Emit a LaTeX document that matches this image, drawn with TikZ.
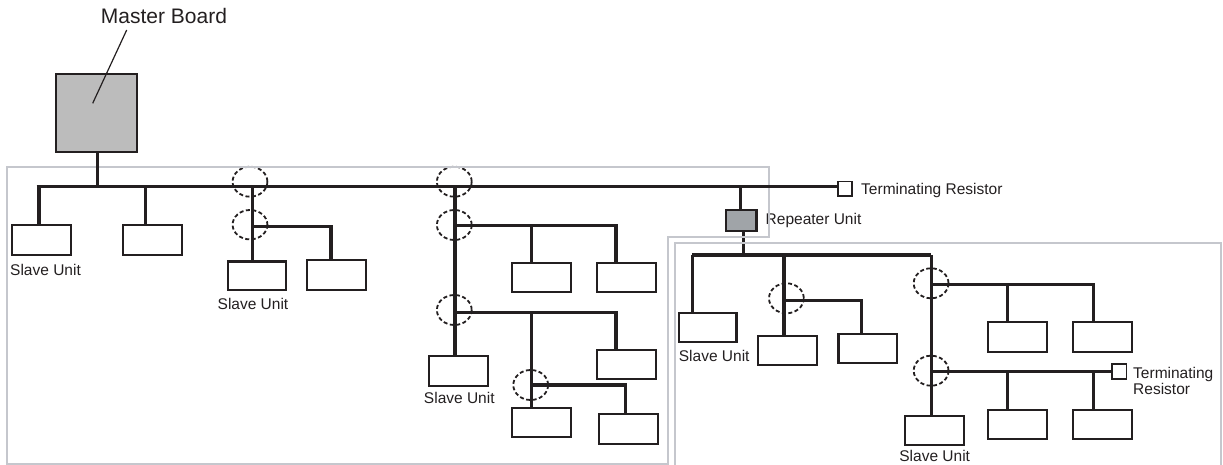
\documentclass[tikz,border=0pt]{standalone}
\usepackage{fontspec}
\setmainfont{Liberation Sans}
\definecolor{framegray}{HTML}{C5C7CD}
\definecolor{mastergray}{HTML}{BCBCBC}
\definecolor{repgray}{HTML}{A0A4A8}
\definecolor{ink}{HTML}{231F20}
\tikzset{
  bus/.style={draw=ink, line width=3.2pt},
  slavebox/.style={draw=ink, line width=2.2pt, fill=white, rectangle, inner sep=0pt, outer sep=0pt},
  ring/.style={draw=ink, line width=1.8pt, dash pattern=on 4pt off 2.5pt},
  frameline/.style={draw=framegray, line width=2pt},
  lbl/.style={font=\fontsize{15.5}{16.6}\selectfont, text=ink, inner sep=0pt},
  termbox/.style={draw=ink, line width=1.8pt, fill=white, rectangle, inner sep=0pt, outer sep=0pt, minimum size=14.5pt},
}
\begin{document}
\begin{tikzpicture}[x=1pt,y=-1pt]
\useasboundingbox (0,0) rectangle (1223,465);

% ---- nodes ----
\node[draw=ink, line width=2.2pt, fill=mastergray, minimum width=81pt, minimum height=78pt, inner sep=0pt, outer sep=0pt] (m) at (96.5,113) {};
\node[lbl, font=\fontsize{21}{24}\selectfont] (mlbl) at (164,16) {Master Board};
\coordinate (mtop) at (126.7,30);
\coordinate (mlead) at (92.7,103.3);

% left segment slaves
\node[slavebox, minimum width=59pt, minimum height=30pt] (s1) at (41.5,240) {};
\node[slavebox, minimum width=59pt, minimum height=30pt] (s2) at (152.2,240) {};
\node[slavebox, minimum width=58pt, minimum height=28.5pt] (s3) at (256.8,275.8) {};
\node[slavebox, minimum width=59pt, minimum height=30pt] (s4) at (336.7,275) {};
\node[slavebox, minimum width=59pt, minimum height=29.5pt] (s5a) at (541.2,277.5) {};
\node[slavebox, minimum width=59pt, minimum height=29.5pt] (s5b) at (626.3,277.5) {};
\node[slavebox, minimum width=58.7pt, minimum height=29.7pt] (s6) at (458.3,370.8) {};
\node[slavebox, minimum width=59pt, minimum height=29.3pt] (s7) at (626.3,364.7) {};
\node[slavebox, minimum width=59pt, minimum height=29pt] (s8) at (541.2,422.8) {};
\node[slavebox, minimum width=59.3pt, minimum height=29.7pt] (s9) at (628.7,429.2) {};

% right segment slaves
\node[slavebox, minimum width=57.8pt, minimum height=29.6pt] (s10) at (707.6,327.5) {};
\node[slavebox, minimum width=58.9pt, minimum height=29.3pt] (s11) at (787.5,350.3) {};
\node[slavebox, minimum width=58.5pt, minimum height=29pt] (s12) at (867.8,348.8) {};
\node[slavebox, minimum width=58.9pt, minimum height=29.3pt] (s13) at (934.7,430.3) {};
\node[slavebox, minimum width=58.9pt, minimum height=29.4pt] (s14) at (1017.3,337) {};
\node[slavebox, minimum width=59.3pt, minimum height=29.4pt] (s15) at (1102.6,337) {};
\node[slavebox, minimum width=58.9pt, minimum height=29.3pt] (s16) at (1017.3,424.7) {};
\node[slavebox, minimum width=59.3pt, minimum height=29.3pt] (s17) at (1102.6,424.7) {};

% repeater and terminators
\node[draw=ink, line width=2.2pt, fill=repgray, minimum width=30.5pt, minimum height=20.7pt, inner sep=0pt, outer sep=0pt] (r) at (741.3,220.3) {};
\node[termbox] (t1) at (845,188.8) {};
\node[termbox] (t2) at (1119.3,371.5) {};

% labels
\node[lbl, anchor=west] (l1) at (10,270) {Slave Unit};
\node[lbl] (l2) at (253,304) {Slave Unit};
\node[lbl] (l3) at (459.3,398.3) {Slave Unit};
\node[lbl, anchor=west] (l4) at (678.7,355.7) {Slave Unit};
\node[lbl] (l5) at (934.7,456) {Slave Unit};
\node[lbl, anchor=west] (lr) at (765.5,220) {Repeater Unit};
\node[lbl, anchor=west] (lt1) at (861,190) {Terminating Resistor};
\node[lbl, anchor=west, align=left] (lt2) at (1133,381) {Terminating\\Resistor};

% ---- connectors ----
\draw[ink, line width=1.2pt] (mtop) -- (mlead);

% repeater lower link (under frames)
\coordinate (b2) at (743.3,255);
\draw[bus] (r.south -| b2) -- (b2);

% dashed rings
\draw[ring] (250,181.7) ellipse [x radius=17.4, y radius=15];
\draw[ring] (250,224.7) ellipse [x radius=17.4, y radius=14.7];
\draw[ring] (454.3,181.7) ellipse [x radius=17.4, y radius=15];
\draw[ring] (454.3,225) ellipse [x radius=17.4, y radius=15];
\draw[ring] (454.3,310) ellipse [x radius=17.4, y radius=15];
\draw[ring] (530.7,385) ellipse [x radius=17.4, y radius=15];
\draw[ring] (786.4,298.3) ellipse [x radius=17.4, y radius=15];
\draw[ring] (931.1,283.3) ellipse [x radius=17.4, y radius=15];
\draw[ring] (931.1,370.7) ellipse [x radius=17.4, y radius=15];

% frames
\draw[frameline] (7.3,166.7) -- (769,166.7) -- (769,236.7) -- (667.7,236.7) -- (667.7,464) -- (7.3,464) -- cycle;
\draw[frameline] (675.3,470) -- (675.3,243.3) -- (1220.5,243.3) -- (1220.5,470);

% main bus
\draw[bus] (36.7,186.7) -- (t1.west |- 0,186.7);
\draw[bus] (m.south -| 97.7,0) -- (97.7,186.7);
\draw[bus] (39,186.7) -- (39,186.7 |- s1.north);
\draw[bus] (145.7,186.7) -- (145.7,186.7 |- s2.north);
\draw[bus] (252.7,186.7) -- (252.7,186.7 |- s3.north);
\draw[bus] (252.7,226.7) -- (331,226.7) -- (331,226.7 |- s4.north);
\draw[bus] (455,186.7) -- (455,186.7 |- s6.north);
\draw[bus] (455,225.7) -- (616,225.7) -- (616,225.7 |- s5b.north);
\draw[bus] (531.7,225.7) -- (531.7,225.7 |- s5a.north);
\draw[bus] (455,312.3) -- (616,312.3) -- (616,312.3 |- s7.north);
\draw[bus] (531.7,312.3) -- (531.7,312.3 |- s8.north);
\draw[bus] (531.7,385) -- (625.7,385) -- (625.7,385 |- s9.north);
\draw[bus] (740.7,186.7) -- (740.7,186.7 |- r.north);

% second segment
\draw[bus] (692.3,255) -- (931.1,255);
\draw[bus] (692.3,255) -- (692.3,255 |- s10.north);
\draw[bus] (783.9,255) -- (783.9,255 |- s11.north);
\draw[bus] (783.9,300.7) -- (861.1,300.7) -- (861.1,300.7 |- s12.north);
\draw[bus] (931.1,255) -- (931.1,255 |- s13.north);
\draw[bus] (931.1,284.3) -- (1093.4,284.3) -- (1093.4,284.3 |- s15.north);
\draw[bus] (1007.6,284.3) -- (1007.6,284.3 |- s14.north);
\draw[bus] (931.1,371.7) -- (t2.west |- 0,371.7);
\draw[bus] (1007.6,371.7) -- (1007.6,371.7 |- s16.north);
\draw[bus] (1093.4,371.7) -- (1093.4,371.7 |- s17.north);
\end{tikzpicture}
\end{document}
